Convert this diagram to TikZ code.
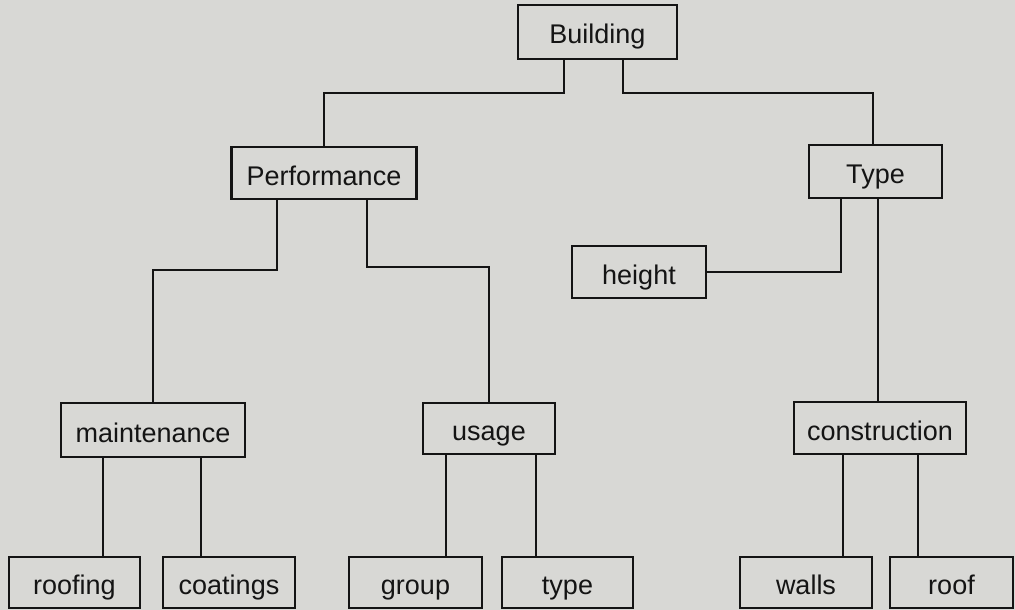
\documentclass[tikz,border=0pt]{standalone}
\usepackage{fontspec}
\setmainfont{Liberation Sans}
\definecolor{paper}{RGB}{216,216,213}
\definecolor{ink}{RGB}{20,20,20}
\begin{document}
\begin{tikzpicture}[x=1pt,y=-1pt,
  box/.style={draw=ink,line width=2.2pt,fill=paper,text=ink,inner sep=0pt,
    text height=25pt,text depth=1pt,
    minimum height=52pt,font=\fontsize{27}{32}\selectfont},
  link/.style={draw=ink,line width=2.4pt}]
\fill[paper] (0,0) rectangle (1015,610);
\useasboundingbox (0,0) rectangle (1015,610);

% nodes of the tree
\node[box,minimum width=159pt,minimum height=54pt] (building) at (597.5,32) {Building};
\node[box,minimum width=185pt] (perf) at (324,173) {Performance};
\node[box,minimum width=133pt,minimum height=53pt] (typeT) at (875.5,171.5) {Type};
\node[box,minimum width=134pt] (height) at (639,272) {height};
\node[box,minimum width=184pt,minimum height=54pt] (maint) at (153,430) {maintenance};
\node[box,minimum width=132pt,minimum height=51pt] (usage) at (489,428.5) {usage};
\node[box,minimum width=172pt] (constr) at (880,428) {construction};
\node[box,minimum width=131pt,minimum height=51pt] (roofing) at (74.5,582.5) {roofing};
\node[box,minimum width=132pt,minimum height=51pt] (coatings) at (229,582.5) {coatings};
\node[box,minimum width=133pt,minimum height=51pt] (group) at (415.5,582.5) {group};
\node[box,minimum width=131pt,minimum height=51pt] (typeU) at (567.5,582.5) {type};
\node[box,minimum width=132pt,minimum height=51pt] (walls) at (806,582.5) {walls};
\node[box,minimum width=123pt,minimum height=51pt] (roof) at (951.5,582.5) {roof};

% connectors
\draw[link] (building.south -| 564,0) -- (564,93) -| (perf.north);
\draw[link] (building.south -| 623,0) -- (623,93) -| (typeT.north -| 873,0);
\draw[link] (perf.south -| 277,0) -- (277,270) -| (maint.north);
\draw[link] (perf.south -| 367,0) -- (367,267) -| (usage.north);
\draw[link] (typeT.south -| 841,0) |- (height.east);
\draw[link] (typeT.south -| 878,0) -- (constr.north -| 878,0);
\draw[link] (maint.south -| 103,0) -- (roofing.north -| 103,0);
\draw[link] (maint.south -| 201,0) -- (coatings.north -| 201,0);
\draw[link] (usage.south -| 446,0) -- (group.north -| 446,0);
\draw[link] (usage.south -| 536,0) -- (typeU.north -| 536,0);
\draw[link] (constr.south -| 843,0) -- (walls.north -| 843,0);
\draw[link] (constr.south -| 918,0) -- (roof.north -| 918,0);
\end{tikzpicture}
\end{document}
